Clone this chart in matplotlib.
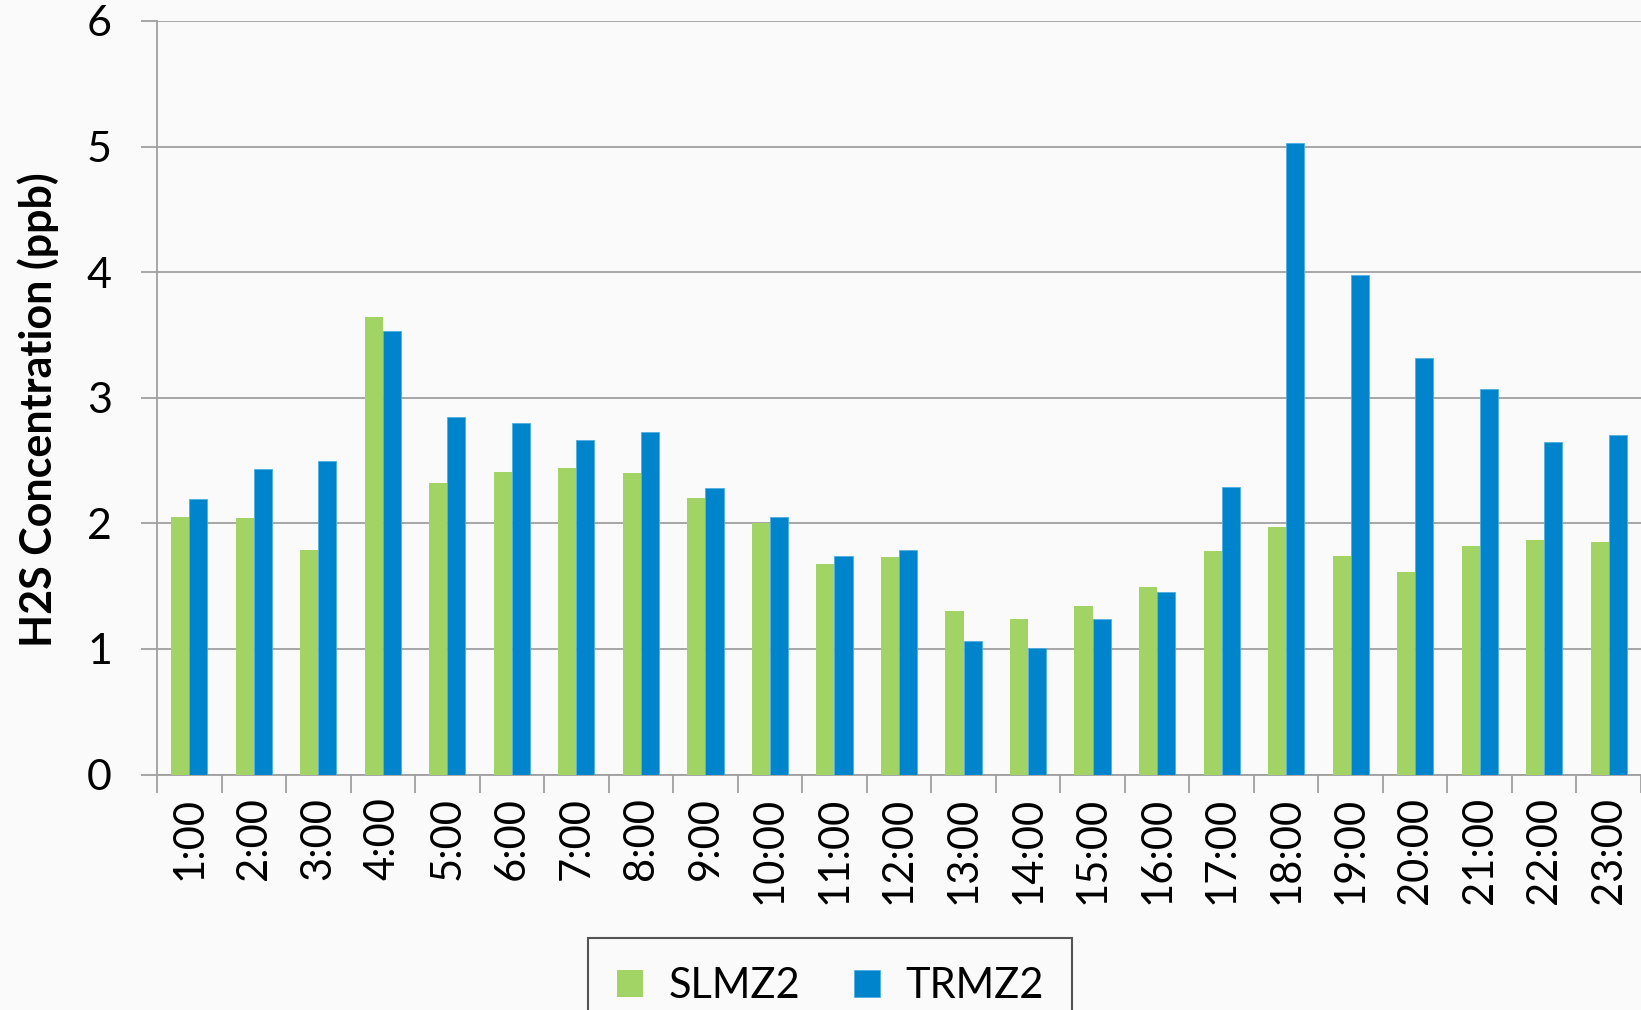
import numpy as np
import matplotlib
matplotlib.use("Agg")
import matplotlib.pyplot as plt

plt.rcParams['font.family'] = ['Lato', 'DejaVu Sans']

# hourly H2S values
hours = ['1:00', '2:00', '3:00', '4:00', '5:00', '6:00', '7:00', '8:00',
         '9:00', '10:00', '11:00', '12:00', '13:00', '14:00', '15:00', '16:00',
         '17:00', '18:00', '19:00', '20:00', '21:00', '22:00', '23:00']
slmz2 = [2.05, 2.04, 1.79, 3.64, 2.32, 2.41, 2.44, 2.40,
         2.20, 2.00, 1.68, 1.73, 1.30, 1.24, 1.34, 1.49,
         1.78, 1.97, 1.74, 1.61, 1.82, 1.87, 1.85]
trmz2 = [2.19, 2.43, 2.50, 3.53, 2.85, 2.80, 2.66, 2.73,
         2.28, 2.05, 1.74, 1.79, 1.06, 1.01, 1.24, 1.45,
         2.29, 5.03, 3.98, 3.32, 3.07, 2.65, 2.70]

green = '#A1D465'
blue = '#0084CB'
grey = '#A0A0A0'
bg = '#FAFAFA'

W, H = 1641, 1010
fig = plt.figure(figsize=(W / 100, H / 100), dpi=100, facecolor=bg)
ax = fig.add_axes([157 / W, 1 - 774.5 / H, (W - 157) / W, 753.5 / H])
ax.set_facecolor('none')

x = np.arange(len(hours))
bw = 0.28
ax.bar(x - bw / 2, slmz2, bw, color=green, label='SLMZ2', zorder=3)
ax.bar(x + bw / 2, trmz2, bw, color=blue, edgecolor='#4FAEE0', linewidth=0.6,
       label='TRMZ2', zorder=3)

ax.set_ylim(0, 6)
ax.set_xlim(-0.5, -0.5 + (W - 157) / 64.7)
ax.set_yticks(range(7))
ax.yaxis.grid(True, color=grey, linewidth=1.3)
ax.set_axisbelow(True)

ax.set_xticks(x)
ax.set_xticklabels(hours, rotation=90)
ax.set_xticks(np.arange(-0.5, len(hours)), minor=True)
ax.tick_params(axis='x', which='major', length=0, pad=16, labelsize=30)
ax.tick_params(axis='x', which='minor', length=13, width=1.3, color=grey)
ax.tick_params(axis='y', length=11.5, width=1.3, color=grey, pad=21, labelsize=31)

for s in ['top', 'right']:
    ax.spines[s].set_visible(False)
for s in ['left', 'bottom']:
    ax.spines[s].set_color(grey)
    ax.spines[s].set_linewidth(1.3)

ax.set_ylabel('H2S Concentration (ppb)', fontsize=31, fontweight='bold')
ax.yaxis.set_label_coords(-0.066, 0.484)

leg = fig.legend(loc='upper center', bbox_to_anchor=(0.506, 1 - 938 / H),
                 ncol=2, fontsize=30, frameon=True, fancybox=False,
                 handlelength=0.62, handleheight=0.62, handletextpad=0.6,
                 columnspacing=1.3, borderpad=0.7, borderaxespad=0)
leg.get_frame().set_edgecolor('#2B2B2B')
leg.get_frame().set_linewidth(1.5)
leg.get_frame().set_facecolor(bg)

fig.savefig('out.png', dpi=100, facecolor=bg)
